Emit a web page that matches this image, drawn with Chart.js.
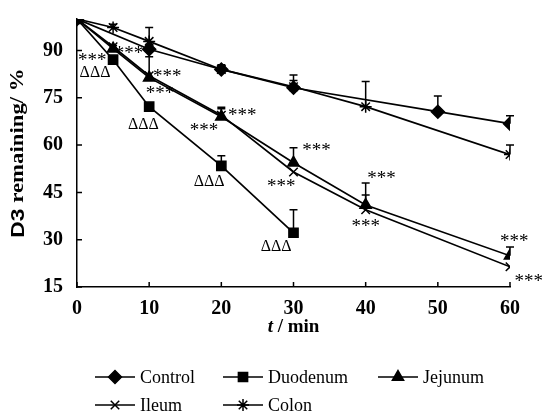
<!DOCTYPE html>
<html>
<head>
<meta charset="utf-8">
<script src="https://cdn.jsdelivr.net/npm/chart.js@4.4.0/dist/chart.umd.min.js"></script>
<style>
  body { margin: 0; background: #fff; }
  canvas { display: block; }
</style>
</head>
<body>
<canvas id="d3_chart" width="542" height="414"></canvas>
<script>
// % D3 remaining vs time (min), upper error bar only
const control_time = [0, 10, 20, 30, 50, 60];
const control_value = [100, 90.4, 84, 78.2, 70.6, 66.8];
const control_err = [0, 1.5, 1.5, 4, 5, 2.5];

const duodenum_time = [0, 5, 10, 20, 30];
const duodenum_value = [100, 87.1, 72.2, 53.4, 32.2];
const duodenum_err = [0, 0, 0, 3.2, 7.3];

const jejunum_time = [0, 5, 10, 20, 30, 40, 60];
const jejunum_value = [100, 90.6, 81.4, 69, 54.4, 41, 24.9];
const jejunum_err = [0, 1, 6.6, 3, 4.8, 7, 2.8];

const ileum_time = [0, 5, 10, 20, 30, 40, 60];
const ileum_value = [100, 91.2, 82, 69.5, 51.5, 39.5, 21.4];
const ileum_err = [0, 0, 0, 2, 0, 4.7, 0];

const colon_time = [0, 5, 10, 20, 30, 40, 60];
const colon_value = [100, 97.3, 92.9, 84, 78.5, 72.2, 57];
const colon_err = [0, 1, 4.4, 1, 2, 8, 3];

const y_ticks = [15, 30, 45, 60, 75, 90];
const x_ticks = [0, 10, 20, 30, 40, 50, 60];

// significance marks, [time, value]
const star_marks = [[2.1, 88], [7.2, 90.3], [12.5, 83], [11.5, 77.6], [17.6, 65.8], [22.9, 70.6],
                    [33.2, 59.5], [28.3, 48], [42.2, 50.6], [40, 35.3], [60.6, 30.6], [62.6, 17.9]];
const delta_marks = [[2.5, 83], [9.2, 66.5], [18.3, 48.4], [27.6, 27.7]];

const FONT = "'Liberation Serif', 'Times New Roman', serif";
const SANS = "'Liberation Sans', Arial, sans-serif";
Chart.defaults.font.family = FONT;
Chart.defaults.color = '#000';

const makeSet = (label, time, value, err, style, radius) => ({
    label: label,
    data: time.map((t, i) => ({x: t, y: value[i]})),
    errors: err,
    borderColor: '#000',
    backgroundColor: '#000',
    borderWidth: 1.7,
    pointStyle: style,
    pointRadius: radius,
    pointBorderWidth: 1.5,
    pointBackgroundColor: '#000',
    pointBorderColor: '#000',
    tension: 0,
    fill: false
});

const errorBars = {
    id: 'errorBars',
    afterDatasetsDraw: (chart) => {
        const ctx = chart.ctx;
        const ys = chart.scales.y;
        ctx.save();
        ctx.strokeStyle = '#000';
        ctx.lineWidth = 1.5;
        chart.data.datasets.forEach((ds, i) => {
            const meta = chart.getDatasetMeta(i);
            ds.data.forEach((pt, j) => {
                const e = ds.errors[j];
                if (!e) return;
                const x = meta.data[j].x;
                const y0 = meta.data[j].y;
                const y1 = ys.getPixelForValue(pt.y + e);
                ctx.beginPath();
                ctx.moveTo(x, y0);
                ctx.lineTo(x, y1);
                ctx.moveTo(x - 4, y1);
                ctx.lineTo(x + 4, y1);
                ctx.stroke();
            });
        });
        ctx.restore();
    }
};

const decorations = {
    id: 'decorations',
    afterDraw: (chart) => {
        const ctx = chart.ctx;
        const xs = chart.scales.x;
        const ys = chart.scales.y;
        const area = chart.chartArea;
        ctx.save();
        // inward tick marks
        ctx.strokeStyle = '#000';
        ctx.lineWidth = 1.5;
        ctx.beginPath();
        x_ticks.forEach(t => {
            const px = xs.getPixelForValue(t);
            ctx.moveTo(px, area.bottom);
            ctx.lineTo(px, area.bottom - 5);
        });
        y_ticks.forEach(v => {
            const py = ys.getPixelForValue(v);
            ctx.moveTo(area.left, py);
            ctx.lineTo(area.left + 5, py);
        });
        ctx.stroke();

        // significance marks
        ctx.fillStyle = '#000';
        ctx.textAlign = 'center';
        ctx.textBaseline = 'middle';
        ctx.font = '19px ' + FONT;
        star_marks.forEach(m => {
            ctx.fillText('***', xs.getPixelForValue(m[0]), ys.getPixelForValue(m[1]) + 4);
        });
        ctx.font = '16px ' + FONT;
        delta_marks.forEach(m => {
            ctx.fillText('\u0394\u0394\u0394', xs.getPixelForValue(m[0]), ys.getPixelForValue(m[1]));
        });

        // y title: "D3" sans, rest serif
        ctx.save();
        ctx.translate(18.5, (area.top + area.bottom) / 2);
        ctx.rotate(-Math.PI / 2);
        ctx.scale(1.2, 1);
        ctx.font = 'bold 19px ' + SANS;
        const a1 = ctx.measureText('D3').width;
        ctx.font = 'bold 19px ' + FONT;
        const a2 = ctx.measureText(' remaining/ %').width;
        ctx.textAlign = 'left';
        ctx.font = 'bold 19px ' + SANS;
        ctx.fillText('D3', -(a1 + a2) / 2, 0);
        ctx.font = 'bold 19px ' + FONT;
        ctx.fillText(' remaining/ %', -(a1 + a2) / 2 + a1, 0);
        ctx.restore();

        // x title with italic t
        const cx = (area.left + area.right) / 2;
        const ty = 327;
        ctx.font = 'italic bold 19px ' + FONT;
        const w1 = ctx.measureText('t').width;
        ctx.font = 'bold 19px ' + FONT;
        const w2 = ctx.measureText(' / min').width;
        const sx = cx - (w1 + w2) / 2;
        ctx.textAlign = 'left';
        ctx.font = 'italic bold 19px ' + FONT;
        ctx.fillText('t', sx, ty);
        ctx.font = 'bold 19px ' + FONT;
        ctx.fillText(' / min', sx + w1, ty);

        // legend, 3 columns
        const colX = [95, 223, 378];
        const rowY = [377, 405];
        ctx.font = '18px ' + FONT;
        chart.data.datasets.forEach((ds, i) => {
            const x = colX[i % 3];
            const y = rowY[Math.floor(i / 3)];
            ctx.beginPath();
            ctx.lineWidth = 1.7;
            ctx.moveTo(x, y);
            ctx.lineTo(x + 40, y);
            ctx.stroke();
            ctx.lineWidth = 1.5;
            Chart.helpers.drawPoint(ctx, {pointStyle: ds.pointStyle, radius: ds.pointRadius, rotation: 0, borderWidth: 1.5}, x + 20, y);
            ctx.fillText(ds.label, x + 45, y + 1);
        });
        ctx.restore();
    }
};

new Chart('d3_chart', {
    type: 'line',
    data: {
        datasets: [
            makeSet('Control', control_time, control_value, control_err, 'rectRot', 6.5),
            makeSet('Duodenum', duodenum_time, duodenum_value, duodenum_err, 'rect', 6.5),
            makeSet('Jejunum', jejunum_time, jejunum_value, jejunum_err, 'triangle', 6.5),
            makeSet('Ileum', ileum_time, ileum_value, ileum_err, 'crossRot', 6),
            makeSet('Colon', colon_time, colon_value, colon_err, 'star', 6)
        ]
    },
    options: {
        responsive: false,
        animation: false,
        layout: {padding: {left: 0, right: 32, top: 19, bottom: 77}},
        plugins: {legend: {display: false}, tooltip: {enabled: false}},
        scales: {
            x: {
                type: 'linear',
                min: 0,
                max: 60,
                afterBuildTicks: (scale) => { scale.ticks = x_ticks.map(v => ({value: v})); },
                afterFit: (scale) => { scale.height = 50; },
                grid: {display: false},
                border: {display: true, color: '#000', width: 1.5},
                ticks: {font: {size: 20, weight: 'bold'}, padding: 2, maxRotation: 0}
            },
            y: {
                min: 15,
                max: 100,
                afterBuildTicks: (scale) => { scale.ticks = y_ticks.map(v => ({value: v})); },
                afterFit: (scale) => { scale.width = 77; },
                grid: {display: false},
                border: {display: true, color: '#000', width: 1.5},
                ticks: {font: {size: 20, weight: 'bold'}, padding: 6}
            }
        }
    },
    plugins: [errorBars, decorations]
});
</script>
</body>
</html>
